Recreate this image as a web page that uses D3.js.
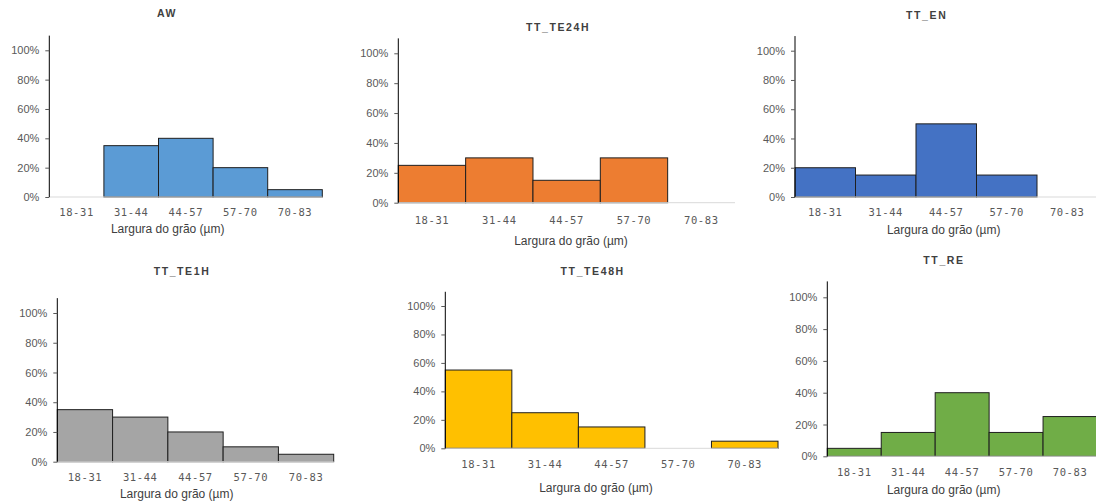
<!DOCTYPE html>
<html>
<head>
<meta charset="utf-8">
<script src="https://cdn.jsdelivr.net/npm/d3@7"></script>
<style>
  html, body { margin: 0; padding: 0; background: #fff; }
  svg { display: block; }
  .ytick text { font-family: "Liberation Sans", Arial, sans-serif; font-size: 11px; fill: #595959; }
  .xlab { font-family: "DejaVu Sans Mono", monospace; font-size: 10.5px; fill: #595959; letter-spacing: 0.6px; }
  .atitle { font-family: "Liberation Sans", Arial, sans-serif; font-size: 12px; fill: #404040; }
  .ptitle { font-family: "Liberation Sans", Arial, sans-serif; font-size: 10.5px; font-weight: bold; fill: #404040; letter-spacing: 1.6px; }
</style>
</head>
<body>
<svg id="chart" width="1096" height="502"></svg>
<script>
// Grain width classes (µm) and the share of grains in each class, per sample
const categories = ["18-31", "31-44", "44-57", "57-70", "70-83"];
const yTicks = [0, 0.2, 0.4, 0.6, 0.8, 1.0];
const axisTitle = "Largura do grão (µm)";

const sampleNames = ["AW", "TT_TE24H", "TT_EN", "TT_TE1H", "TT_TE48H", "TT_RE"];
const aw    = [0.00, 0.35, 0.40, 0.20, 0.05];
const te24h = [0.25, 0.30, 0.15, 0.30, 0.00];
const en    = [0.20, 0.15, 0.50, 0.15, 0.00];
const te1h  = [0.35, 0.30, 0.20, 0.10, 0.05];
const te48h = [0.55, 0.25, 0.15, 0.00, 0.05];
const re    = [0.05, 0.15, 0.40, 0.15, 0.25];
const seriesValues = [aw, te24h, en, te1h, te48h, re];

// Panel placement and styling
const panels = [
  { x0: 49.3,  x1: 322.3,  y0: 197,   y100: 50.3,  tx: 167,   ty: 13,    lx: 212.7, ax: 167.7, ay: 229,   color: "#5B9BD5" },
  { x0: 398.3, x1: 735,    y0: 202.7, y100: 53.3,  tx: 558,   ty: 27.7,  lx: 220,   ax: 571,   ay: 241,   color: "#ED7D31" },
  { x0: 795,   x1: 1097.5, y0: 197,   y100: 50.7,  tx: 926.7, ty: 15,    lx: 212.7, ax: 943.7, ay: 229.3, color: "#4472C4" },
  { x0: 57.3,  x1: 333.7,  y0: 461.7, y100: 313,   tx: 182,   ty: 271.7, lx: 477.7, ax: 176.7, ay: 493.7, color: "#A5A5A5" },
  { x0: 445.3, x1: 778,    y0: 448.3, y100: 306,   tx: 592.7, ty: 271.7, lx: 464,   ax: 596,   ay: 488,   color: "#FFC000" },
  { x0: 827.3, x1: 1097,   y0: 456.3, y100: 297.3, tx: 944,   ty: 260,   lx: 472.3, ax: 943.7, ay: 489.5, color: "#70AD47" }
];

const svg = d3.select("#chart");

panels.forEach((p, i) => {
  const values = seriesValues[i];
  const g = svg.append("g");

  const x = d3.scaleBand().domain(categories).range([p.x0, p.x1]).padding(0);
  const span = p.y0 - p.y100;
  const y = d3.scaleLinear().domain([0, 1.1]).range([p.y0, p.y0 - 1.1 * span]);

  // bars (histogram style, no gaps)
  g.selectAll("rect.bar")
    .data(categories.map((c, k) => ({ c, v: values[k] })).filter(d => d.v > 0))
    .join("rect")
    .attr("class", "bar")
    .attr("x", d => x(d.c))
    .attr("width", x.bandwidth())
    .attr("y", d => y(d.v))
    .attr("height", d => y(0) - y(d.v))
    .attr("fill", p.color)
    .attr("stroke", "#1f1f1f")
    .attr("stroke-width", 1);

  // category baseline
  g.append("line")
    .attr("x1", p.x0).attr("x2", p.x1)
    .attr("y1", y(0)).attr("y2", y(0))
    .attr("stroke", "#d9d9d9").attr("stroke-width", 1);

  // value axis
  const yAxis = g.append("g")
    .attr("class", "ytick")
    .attr("transform", `translate(${p.x0},0)`)
    .call(d3.axisLeft(y).tickValues(yTicks).tickFormat(d3.format(".0%")).tickSize(4).tickPadding(6));
  yAxis.select(".domain").attr("stroke", "#000").attr("d", `M0,${y(1.1)}V${y(0)}`);
  yAxis.selectAll(".tick line").attr("stroke", "#595959");

  // category labels
  g.selectAll("text.xlab")
    .data(categories)
    .join("text")
    .attr("class", "xlab")
    .attr("x", d => x(d) + x.bandwidth() / 2)
    .attr("y", p.lx)
    .attr("dy", "0.35em")
    .attr("text-anchor", "middle")
    .text(d => d);

  // axis title
  g.append("text")
    .attr("class", "atitle")
    .attr("x", p.ax)
    .attr("y", p.ay)
    .attr("dy", "0.35em")
    .attr("text-anchor", "middle")
    .text(axisTitle);

  // panel title
  g.append("text")
    .attr("class", "ptitle")
    .attr("x", p.tx)
    .attr("y", p.ty)
    .attr("dy", "0.35em")
    .attr("text-anchor", "middle")
    .text(sampleNames[i]);
});
</script>
</body>
</html>
